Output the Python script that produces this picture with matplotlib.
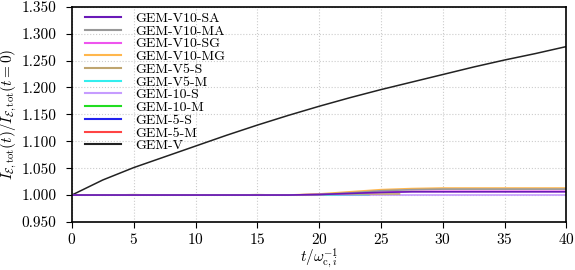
import numpy as np
import matplotlib
matplotlib.use("Agg")
import matplotlib.pyplot as plt

plt.rcParams['font.family'] = 'serif'
plt.rcParams['font.serif'] = ['cmr10', 'DejaVu Serif']
plt.rcParams['mathtext.fontset'] = 'cm'
plt.rcParams['axes.formatter.use_mathtext'] = True
plt.rcParams['font.size'] = 11

# time grid of the read-off points
t_full = [0, 2.5, 5, 7.5, 10, 12.5, 15, 17.5, 20, 22.5, 25, 27.5, 30, 32.5, 35, 37.5, 40]

gem_v = [1.000, 1.028, 1.051, 1.071, 1.091, 1.111, 1.130, 1.148, 1.165, 1.181, 1.196, 1.210, 1.224, 1.238, 1.251, 1.263, 1.276]

v10_sa = [1.000, 1.000, 1.000, 1.000, 1.000, 1.000, 1.000, 1.000, 1.001, 1.003, 1.005, 1.006, 1.006, 1.006, 1.006, 1.006, 1.006]
v10_ma = [1.000, 1.000, 1.000, 1.000, 1.000, 1.000, 1.000, 1.000, 1.001, 1.004, 1.008, 1.010, 1.011, 1.011, 1.011, 1.011, 1.011]
v10_sg = [1.000, 1.000, 1.000, 1.000, 1.000, 1.000, 1.000, 1.000, 1.001, 1.003, 1.005, 1.007, 1.007, 1.007, 1.007, 1.007, 1.007]
v10_mg = [1.000, 1.000, 1.000, 1.000, 1.000, 1.000, 1.000, 1.000, 1.002, 1.006, 1.010, 1.012, 1.013, 1.013, 1.013, 1.013, 1.013]
gem10_s = [1.000, 1.000, 1.000, 1.000, 1.000, 1.000, 1.000, 1.000, 1.000, 1.000, 1.000, 1.000, 1.000, 1.000, 1.000, 1.000, 1.000]

t_v5s = [0, 2.5, 5, 7.5, 10, 12.5, 15, 17.5, 20, 22.5, 25, 26.5]
v5_s = [1.000, 1.000, 1.000, 1.000, 1.000, 1.000, 1.000, 1.000, 1.001, 1.002, 1.002, 1.002]

t_short = [0, 2.5, 5, 7.5, 10, 12.5, 15, 17.5, 20, 22.5, 24]
v5_m = [1.000, 1.000, 1.000, 1.000, 1.000, 1.000, 1.000, 1.000, 1.000, 1.001, 1.001]
gem10_m = [1.000, 1.000, 1.0005, 1.000, 1.000, 1.000, 1.0005, 1.000, 1.000, 1.001, 1.001]
gem5_s = [1.000, 1.000, 1.000, 1.000, 1.000, 1.000, 1.000, 1.000, 1.000, 1.000, 1.000]
gem5_m = [1.000, 1.000, 1.0005, 1.000, 1.000, 1.000, 1.0005, 1.000, 1.000, 1.000, 1.000]

fig, ax = plt.subplots(figsize=(5.75, 2.7), dpi=100)

ax.plot(t_full, gem_v, color='#222222', lw=1.1, label='GEM-V')
ax.plot(t_short, gem5_m, color='#ff4444', lw=1.2, label='GEM-5-M')
ax.plot(t_short, gem5_s, color='#2222ee', lw=1.2, label='GEM-5-S')
ax.plot(t_short, gem10_m, color='#22dd22', lw=1.2, label='GEM-10-M')
ax.plot(t_full, gem10_s, color='#c69cff', lw=1.2, label='GEM-10-S')
ax.plot(t_short, v5_m, color='#33eeee', lw=1.2, label='GEM-V5-M')
ax.plot(t_v5s, v5_s, color='#bfa570', lw=1.2, label='GEM-V5-S')
ax.plot(t_full, v10_mg, color='#ffb74d', lw=1.2, label='GEM-V10-MG')
ax.plot(t_full, v10_sg, color='#ee55ee', lw=1.2, label='GEM-V10-SG')
ax.plot(t_full, v10_ma, color='#999999', lw=1.2, label='GEM-V10-MA')
ax.plot(t_full, v10_sa, color='#6a1ab8', lw=1.2, label='GEM-V10-SA')

ax.set_xlim(0, 40)
ax.set_ylim(0.95, 1.35)
yt = np.arange(0.95, 1.351, 0.05)
ax.set_yticks(yt)
ax.set_yticklabels(['%.3f' % v for v in yt])
ax.set_xticks(range(0, 41, 5))
ax.grid(True, linestyle=':', color='#cccccc', lw=0.8)
ax.tick_params(direction='out', length=4, top=False, right=False)
ax.tick_params(axis='y', pad=7)
for s in ax.spines.values():
    s.set_linewidth(1.2)
ax.set_xlabel(r'$t/\omega_{\mathrm{c},i}^{-1}$', labelpad=-1)
ax.set_ylabel(r'$I_{\mathcal{E},\mathrm{tot}}(t)/I_{\mathcal{E},\mathrm{tot}}(t=0)$', labelpad=2)

handles, labels = ax.get_legend_handles_labels()
leg = ax.legend(handles[::-1], labels[::-1], loc='upper left', bbox_to_anchor=(0.016, 1.0),
                frameon=False, fontsize=10, handlelength=2.6, labelspacing=0.0,
                borderaxespad=0.0, handletextpad=1.0)
for h in leg.get_lines():
    h.set_linewidth(1.5)

fig.subplots_adjust(left=0.125, right=0.985, top=0.975, bottom=0.178)
fig.savefig('out.png')
